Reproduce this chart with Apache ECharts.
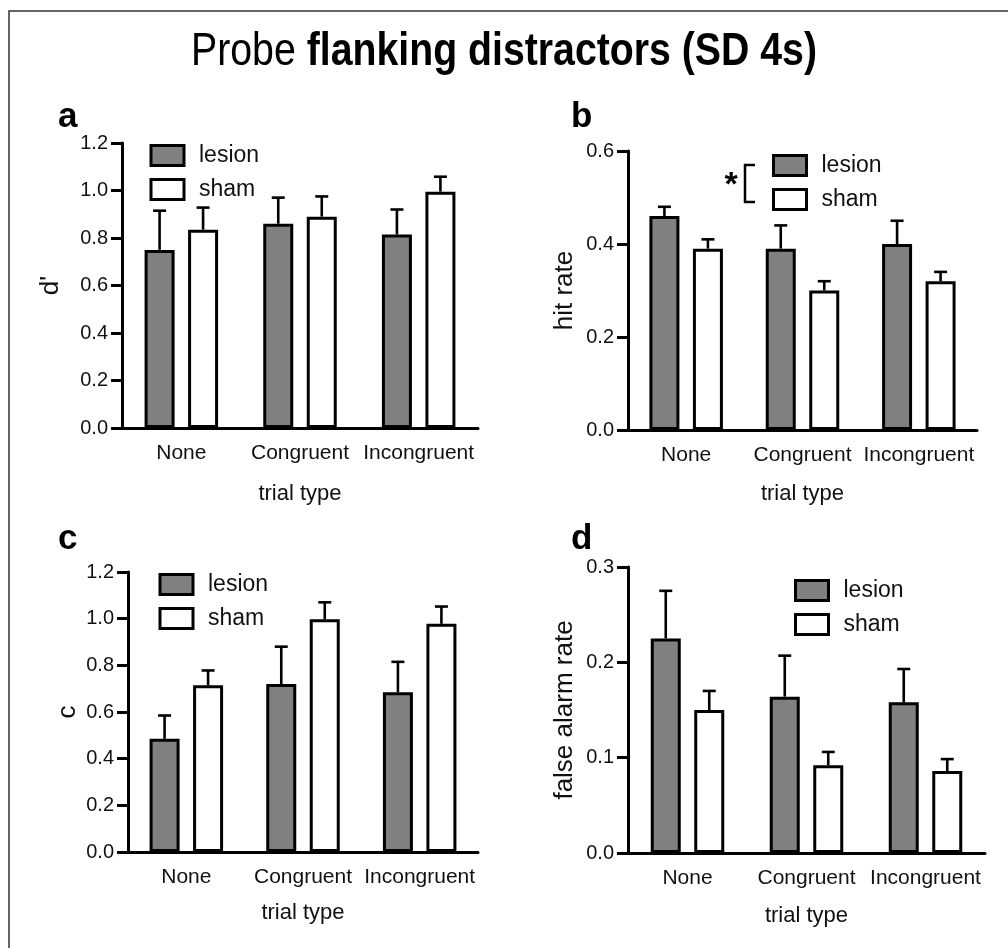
<!DOCTYPE html>
<html>
<head>
<meta charset="utf-8">
<script src="https://cdn.jsdelivr.net/npm/echarts@6/dist/echarts.min.js"></script>
<style>
html,body{margin:0;padding:0;background:#fff;}
#chart{width:1008px;height:948px;}
</style>
</head>
<body>
<div id="chart"></div>
<script>
// ---------- data ----------
const categories = ['None', 'Congruent', 'Incongruent'];
const seriesNames = ['lesion', 'sham'];

// panel a: d'
const dPrimeLesion = [0.75, 0.86, 0.815];
const dPrimeLesionSem = [0.165, 0.11, 0.105];
const dPrimeSham = [0.835, 0.89, 0.995];
const dPrimeShamSem = [0.093, 0.085, 0.063];

// panel b: hit rate
const hitLesion = [0.46, 0.39, 0.40];
const hitLesionSem = [0.02, 0.05, 0.05];
const hitSham = [0.39, 0.30, 0.32];
const hitShamSem = [0.02, 0.02, 0.02];

// panel c: c
const cLesion = [0.485, 0.72, 0.685];
const cLesionSem = [0.10, 0.16, 0.13];
const cSham = [0.715, 0.998, 0.978];
const cShamSem = [0.063, 0.072, 0.074];

// panel d: false alarm rate
const faLesion = [0.225, 0.164, 0.158];
const faLesionSem = [0.05, 0.043, 0.035];
const faSham = [0.150, 0.092, 0.086];
const faShamSem = [0.020, 0.014, 0.0125];

// axis ranges [min, max, interval]
const axisA = [0, 1.2, 0.2];
const axisB = [0, 0.6, 0.2];
const axisC = [0, 1.2, 0.2];
const axisD = [0, 0.3, 0.1];

const panelLetters = ['a', 'b', 'c', 'd'];
const yNames = ["d'", 'hit rate', 'c', 'false alarm rate'];
const xName = 'trial type';
const titleRegular = 'Probe';
const titleBold = 'flanking distractors (SD 4s)';

// ---------- style ----------
const FONT = '"Liberation Sans", Arial, Helvetica, sans-serif';
const GREY = '#808080';
const INK = '#111';
const BAR_W = 30;
const BAR_GAP = 0.45;
const OFFSET = BAR_W * (1 + BAR_GAP) / 2;
const CAP = 13;

const panels = [
  {grid: {left: 122, top: 143, width: 356, height: 285}, axis: axisA, yGap: 58, xGap: 55,
   lesion: dPrimeLesion, lesionSem: dPrimeLesionSem, sham: dPrimeSham, shamSem: dPrimeShamSem,
   legend: {left: 149.5, top: 144}},
  {grid: {left: 628, top: 151, width: 349, height: 279}, axis: axisB, yGap: 50, xGap: 53,
   lesion: hitLesion, lesionSem: hitLesionSem, sham: hitSham, shamSem: hitShamSem,
   legend: {left: 772, top: 154}},
  {grid: {left: 128, top: 572, width: 350, height: 280}, axis: axisC, yGap: 47, xGap: 50,
   lesion: cLesion, lesionSem: cLesionSem, sham: cSham, shamSem: cShamSem,
   legend: {left: 158.5, top: 573}},
  {grid: {left: 628, top: 567, width: 357, height: 286}, axis: axisD, yGap: 50, xGap: 52,
   lesion: faLesion, lesionSem: faLesionSem, sham: faSham, shamSem: faShamSem,
   legend: {left: 794, top: 579}}
];

const grids = [], xAxes = [], yAxes = [], series = [], legends = [];

function errSeries(idx, means, sems, sign) {
  return {
    type: 'custom', xAxisIndex: idx, yAxisIndex: idx, silent: true, z: 3,
    encode: {x: 0, y: [1, 2]},
    data: means.map((m, i) => [i, m, m + sems[i]]),
    renderItem: function (params, api) {
      const base = api.coord([api.value(0), api.value(1)]);
      const top = api.coord([api.value(0), api.value(2)]);
      const x = base[0] + sign * OFFSET;
      const st = {stroke: '#000', lineWidth: 2.6};
      return {type: 'group', children: [
        {type: 'line', shape: {x1: x, y1: base[1], x2: x, y2: top[1]}, style: st},
        {type: 'line', shape: {x1: x - CAP / 2, y1: top[1], x2: x + CAP / 2, y2: top[1]}, style: st}
      ]};
    }
  };
}

panels.forEach((p, i) => {
  grids.push(Object.assign({containLabel: false}, p.grid));
  xAxes.push({
    type: 'category', gridIndex: i, data: categories,
    name: xName, nameLocation: 'middle', nameGap: p.xGap,
    nameTextStyle: {fontFamily: FONT, fontSize: 22, color: INK},
    axisLine: {lineStyle: {color: '#000', width: 3}},
    axisTick: {alignWithLabel: true, length: 11, lineStyle: {color: '#000', width: 3}},
    axisLabel: {fontFamily: FONT, fontSize: 21, color: INK, margin: 15, interval: 0},
    splitLine: {show: false}
  });
  yAxes.push({
    type: 'value', gridIndex: i, min: p.axis[0], max: p.axis[1], interval: p.axis[2],
    name: yNames[i], nameLocation: 'middle', nameGap: p.yGap, nameRotate: 90,
    nameTextStyle: {fontFamily: FONT, fontSize: 26, color: INK},
    axisLine: {show: true, lineStyle: {color: '#000', width: 3}},
    axisTick: {show: true, length: 11, lineStyle: {color: '#000', width: 3}},
    axisLabel: {fontFamily: FONT, fontSize: 20, color: INK, margin: 14,
      formatter: v => v.toFixed(1)},
    splitLine: {show: false}
  });
  series.push({
    type: 'bar', name: seriesNames[0], xAxisIndex: i, yAxisIndex: i, data: p.lesion,
    barWidth: BAR_W, barGap: (BAR_GAP * 100) + '%', z: 2,
    itemStyle: {color: GREY, borderColor: '#000', borderWidth: 3}
  });
  series.push({
    type: 'bar', name: seriesNames[1], xAxisIndex: i, yAxisIndex: i, data: p.sham,
    barWidth: BAR_W, barGap: (BAR_GAP * 100) + '%', z: 2,
    itemStyle: {color: '#fff', borderColor: '#000', borderWidth: 3}
  });
  series.push(errSeries(i, p.lesion, p.lesionSem, -1));
  series.push(errSeries(i, p.sham, p.shamSem, 1));
  legends.push({
    data: seriesNames, orient: 'vertical', left: p.legend.left, top: p.legend.top,
    padding: 0,
    icon: 'rect', itemWidth: 33, itemHeight: 20, itemGap: 11,
    selectedMode: false,
    itemStyle: {borderColor: '#000', borderWidth: 3},
    textStyle: {fontFamily: FONT, fontSize: 23, color: INK, padding: [0, 0, 0, 10]}
  });
});

const letterPos = [[58, 135], [571, 135], [58, 557], [571, 557]];
const graphics = [
  {type: 'rect', shape: {x: 9, y: 11, width: 1100, height: 1000},
   style: {fill: 'none', stroke: '#333', lineWidth: 1.5}, silent: true},
  {type: 'text', x: 504, y: 52, scaleX: 0.835, silent: true,
   style: {
     text: '{r|' + titleRegular + ' }{b|' + titleBold + '}',
     textAlign: 'center', textVerticalAlign: 'middle',
     rich: {
       r: {fontFamily: FONT, fontSize: 47, fontWeight: 'normal', fill: '#000'},
       b: {fontFamily: FONT, fontSize: 47, fontWeight: 'bold', fill: '#000'}
     }
   }}
];
panelLetters.forEach((l, i) => {
  graphics.push({type: 'text', x: letterPos[i][0], y: letterPos[i][1], silent: true,
    style: {text: l, font: 'bold 35px ' + FONT, fill: '#000', textAlign: 'left', textVerticalAlign: 'bottom'}});
});
// significance marker for panel b
graphics.push({type: 'polyline', silent: true,
  shape: {points: [[755, 165], [745, 165], [745, 202], [755, 202]]},
  style: {stroke: '#000', lineWidth: 2.5, fill: 'none'}});
graphics.push({type: 'text', x: 731, y: 186, silent: true,
  style: {text: '*', font: 'bold 34px ' + FONT, fill: '#000', textAlign: 'center', textVerticalAlign: 'middle'}});

const chart = echarts.init(document.getElementById('chart'), null, {renderer: 'canvas'});
chart.setOption({
  animation: false,
  backgroundColor: '#fff',
  grid: grids, xAxis: xAxes, yAxis: yAxes, legend: legends, series: series,
  graphic: graphics
});
</script>
</body>
</html>
